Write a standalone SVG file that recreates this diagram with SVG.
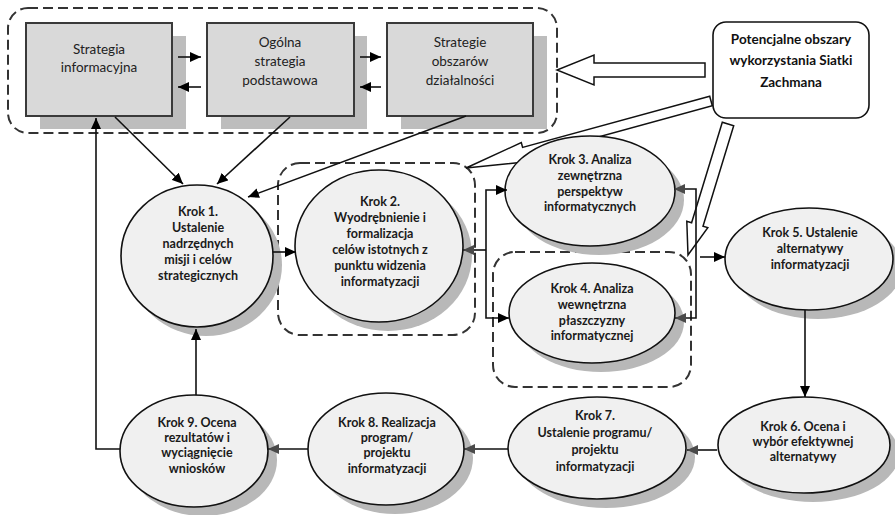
<svg xmlns="http://www.w3.org/2000/svg" width="895" height="515" viewBox="0 0 895 515">
  <style>
    .dash { fill: none; stroke: #333; stroke-width: 2; stroke-dasharray: 10 5; }
    .box { fill: #d9d9d9; stroke: #3a3a3a; stroke-width: 2; }
    .boxsh { fill: #bdbdbd; }
    .ell { fill: #f0f0f0; stroke: #111; stroke-width: 1.6; }
    .ellsh { fill: #b8b8b8; }
    .hollow { fill: #fff; stroke: #111; stroke-width: 1.5; stroke-linejoin: miter; }
    .conn { fill: none; stroke: #111; stroke-width: 1.6; }
    .arr { marker-end: url(#ah); }
    .arrg { marker-end: url(#ahg); }
    .bt { font-family: Lato, "Liberation Sans", sans-serif; font-size: 13.5px; fill: #222; text-anchor: middle; }
    .et { font-family: Lato, "Liberation Sans", sans-serif; font-size: 12.5px; font-weight: bold; fill: #1a1a1a; text-anchor: middle; }
    .ct { font-family: Lato, "Liberation Sans", sans-serif; font-size: 13.5px; font-weight: bold; fill: #111; text-anchor: middle; }
  </style>
  <defs>
    <marker id="ah" markerUnits="userSpaceOnUse" markerWidth="12" markerHeight="10" refX="11" refY="5" orient="auto">
      <path d="M0,0 L11,5 L0,10 z" fill="#000"/>
    </marker>
    <marker id="ahg" markerUnits="userSpaceOnUse" markerWidth="12" markerHeight="10" refX="11" refY="5" orient="auto">
      <path d="M0,0 L11,5 L0,10 z" fill="#4a4a4a"/>
    </marker>
  </defs>
  <rect width="895" height="515" fill="#fff"/>

  <!-- dashed groupings -->
  <g id="groups">
    <rect class="dash" x="8" y="8" width="549" height="125" rx="20"/>
    <rect class="dash" x="278" y="163" width="197" height="172" rx="22"/>
    <rect class="dash" x="493" y="252" width="198" height="135" rx="22"/>
  </g>

  <!-- wide hollow arrows from the Zachman callout -->
  <g id="callout-arrows">
    <polygon class="hollow" points="705,63 594,63 594,55 557,70 594,85 594,77 705,77"/>
    <polygon class="hollow" points="709.7,96.2 522.6,147.4 521.3,142.6 466,168 526.5,161.8 525.2,157 712.3,105.8"/>
    <polygon class="hollow" points="722.3,122.2 691.6,222.7 686.8,221.2 688,255 707.8,227.6 703,226.2 733.7,125.8"/>
  </g>

  <!-- strategy boxes -->
  <g id="box-strategia-informacyjna">
    <rect class="boxsh" x="40" y="36" width="146" height="93"/>
    <rect class="box" x="26" y="23" width="146" height="93"/>
    <text class="bt" x="99" y="54">Strategia</text>
    <text class="bt" x="99" y="72">informacyjna</text>
  </g>
  <g id="box-ogolna-strategia">
    <rect class="boxsh" x="221" y="36" width="146" height="93"/>
    <rect class="box" x="207" y="23" width="147" height="93"/>
    <text class="bt" x="280" y="47">Ogólna</text>
    <text class="bt" x="280" y="66">strategia</text>
    <text class="bt" x="280" y="85">podstawowa</text>
  </g>
  <g id="box-strategie-obszarow">
    <rect class="boxsh" x="401" y="36" width="146" height="93"/>
    <rect class="box" x="387" y="23" width="146" height="93"/>
    <text class="bt" x="460" y="47">Strategie</text>
    <text class="bt" x="460" y="66">obszarów</text>
    <text class="bt" x="460" y="85">działalności</text>
  </g>

  <!-- process steps -->
  <g id="krok1">
    <ellipse class="ellsh" cx="206" cy="265" rx="76" ry="71"/>
    <ellipse class="ell" cx="197" cy="256" rx="76" ry="71"/>
    <text class="et" x="198" y="216">Krok 1.</text>
    <text class="et" x="198" y="232">Ustalenie</text>
    <text class="et" x="198" y="248">nadrzędnych</text>
    <text class="et" x="198" y="264">misji i celów</text>
    <text class="et" x="198" y="280">strategicznych</text>
  </g>
  <g id="krok2">
    <ellipse class="ellsh" cx="388" cy="255" rx="84" ry="76"/>
    <ellipse class="ell" cx="379" cy="246" rx="84" ry="76"/>
    <text class="et" x="380" y="206">Krok 2.</text>
    <text class="et" x="380" y="222">Wyodrębnienie i</text>
    <text class="et" x="380" y="238">formalizacja</text>
    <text class="et" x="380" y="254">celów istotnych z</text>
    <text class="et" x="380" y="270">punktu widzenia</text>
    <text class="et" x="380" y="286">informatyzacji</text>
  </g>
  <g id="krok3">
    <ellipse class="ellsh" cx="599" cy="200" rx="85" ry="55"/>
    <ellipse class="ell" cx="590" cy="191" rx="85" ry="55"/>
    <text class="et" x="590" y="164">Krok 3. Analiza</text>
    <text class="et" x="590" y="180">zewnętrzna</text>
    <text class="et" x="590" y="196">perspektyw</text>
    <text class="et" x="590" y="211">informatycznych</text>
  </g>
  <g id="krok4">
    <ellipse class="ellsh" cx="601" cy="322" rx="83" ry="50"/>
    <ellipse class="ell" cx="592" cy="313" rx="83" ry="50"/>
    <text class="et" x="592" y="293">Krok 4. Analiza</text>
    <text class="et" x="592" y="309">wewnętrzna</text>
    <text class="et" x="592" y="325">płaszczyzny</text>
    <text class="et" x="592" y="340">informatycznej</text>
  </g>
  <g id="krok5">
    <ellipse class="ellsh" cx="818" cy="268" rx="84" ry="51"/>
    <ellipse class="ell" cx="809" cy="259" rx="84" ry="51"/>
    <text class="et" x="810" y="237">Krok 5. Ustalenie</text>
    <text class="et" x="810" y="253">alternatywy</text>
    <text class="et" x="810" y="269">informatyzacji</text>
  </g>
  <g id="krok6">
    <ellipse class="ellsh" cx="813" cy="454" rx="86" ry="48"/>
    <ellipse class="ell" cx="804" cy="445" rx="86" ry="48"/>
    <text class="et" x="803" y="431">Krok 6. Ocena i</text>
    <text class="et" x="803" y="446">wybór efektywnej</text>
    <text class="et" x="803" y="461">alternatywy</text>
  </g>
  <g id="krok7">
    <ellipse class="ellsh" cx="606" cy="457" rx="89" ry="51"/>
    <ellipse class="ell" cx="597" cy="448" rx="89" ry="51"/>
    <text class="et" x="595" y="420">Krok 7.</text>
    <text class="et" x="595" y="437">Ustalenie programu/</text>
    <text class="et" x="595" y="454">projektu</text>
    <text class="et" x="595" y="471">informatyzacji</text>
  </g>
  <g id="krok8">
    <ellipse class="ellsh" cx="395" cy="458" rx="78" ry="56"/>
    <ellipse class="ell" cx="386" cy="449" rx="78" ry="56"/>
    <text class="et" x="387" y="427">Krok 8. Realizacja</text>
    <text class="et" x="387" y="442">program/</text>
    <text class="et" x="387" y="457">projektu</text>
    <text class="et" x="387" y="473">informatyzacji</text>
  </g>
  <g id="krok9">
    <ellipse class="ellsh" cx="203" cy="460" rx="74" ry="56"/>
    <ellipse class="ell" cx="194" cy="451" rx="74" ry="56"/>
    <text class="et" x="197" y="427">Krok 9. Ocena</text>
    <text class="et" x="197" y="442">rezultatów i</text>
    <text class="et" x="197" y="457">wyciągnięcie</text>
    <text class="et" x="197" y="473">wniosków</text>
  </g>

  <!-- connectors -->
  <g id="connectors">
    <path class="conn arr" d="M178,57 H201"/>
    <path class="conn arr" d="M201,87 H178"/>
    <path class="conn arr" d="M360,57 H381"/>
    <path class="conn arr" d="M381,87 H360"/>
    <path class="conn arr" d="M115,117 L183,184"/>
    <path class="conn arr" d="M290,117 L217,184"/>
    <path class="conn arr" d="M466,116 L248,197"/>
    <path class="conn arr" d="M120,449 H96 V118"/>
    <path class="conn arr" d="M196,395 V329"/>
    <path class="conn arr" d="M273,252 H296"/>
    <path class="conn arrg" d="M486,250 H463"/>
    <path class="conn arr" d="M486,250 V190 H507"/>
    <path class="conn arr" d="M486,250 V318 H509"/>
    <path class="conn arrg" d="M696,254 V189 H674"/>
    <path class="conn arrg" d="M696,254 V318 H675"/>
    <path class="conn arr" d="M700,257 H725"/>
    <path class="conn arr" d="M805,310 V397"/>
    <path class="conn arrg" d="M717,450 H687"/>
    <path class="conn arrg" d="M508,449 H464"/>
    <path class="conn arrg" d="M308,449 H268"/>
  </g>

  <!-- Zachman callout -->
  <g id="callout">
    <rect x="713" y="22" width="156" height="96" rx="13" fill="#fff" stroke="#111" stroke-width="1.6"/>
    <text class="ct" x="791" y="44">Potencjalne obszary</text>
    <text class="ct" x="791" y="65">wykorzystania Siatki</text>
    <text class="ct" x="791" y="87">Zachmana</text>
  </g>
</svg>
